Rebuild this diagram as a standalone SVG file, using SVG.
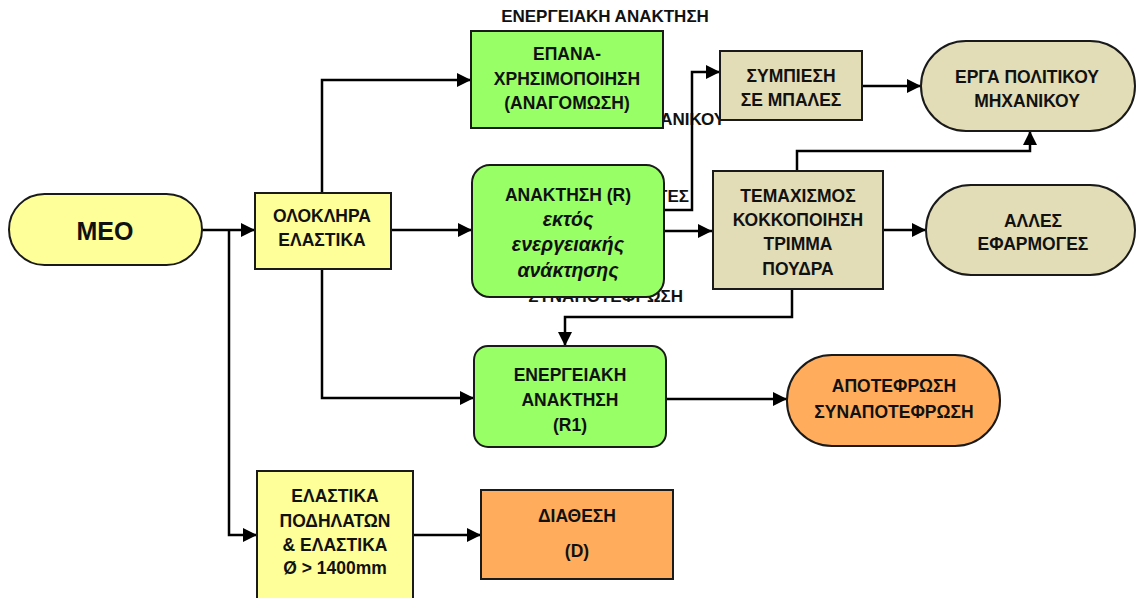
<svg xmlns="http://www.w3.org/2000/svg" width="1136" height="598" viewBox="0 0 1136 598">
  <defs>
    <marker id="arr" markerUnits="userSpaceOnUse" markerWidth="14" markerHeight="14" viewBox="0 0 14 14" refX="14" refY="7" orient="auto">
      <path d="M0,0 L14,7 L0,14 z" fill="#000"/>
    </marker>
    <style>
      text { font-family: "Liberation Sans", Arial, sans-serif; font-weight: bold; font-size: 17.5px; fill: #111; text-anchor: middle; }
      .it { font-style: italic; font-size: 19.5px; }
      .big { font-size: 25px; }
      .ttl { font-size: 17px; }
      .hid { text-anchor: end; font-size: 17px; }
      .yel { fill: #FFFF99; stroke: #1a1a1a; stroke-width: 2; }
      .grn { fill: #99FF66; stroke: #1a1a1a; stroke-width: 2; }
      .bei { fill: #E2DDB6; stroke: #1a1a1a; stroke-width: 2; }
      .org { fill: #FFAD5C; stroke: #1a1a1a; stroke-width: 2; }
      .con path { fill: none; stroke: #000; stroke-width: 2.5; marker-end: url(#arr); }
    </style>
  </defs>
  <rect width="1136" height="598" fill="#fff"/>

  <g id="hidden-labels">
    <text class="hid" x="725" y="125">ΜΗΧΑΝΙΚΟΥ</text>
    <text class="hid" x="689" y="202">ΓΕΣ</text>
    <text class="hid" x="683" y="302">ΣΥΝΑΠΟΤΕΦΡΩΣΗ</text>
  </g>

  <text id="title" class="ttl" x="605" y="22">ΕΝΕΡΓΕΙΑΚΗ ΑΝΑΚΤΗΣΗ</text>

  <g class="con" id="connectors">
    <path d="M202,230 H255"/>
    <path d="M229,230 V535 H257"/>
    <path d="M322,193 V80 H471"/>
    <path d="M391,230 H472"/>
    <path d="M322,269 V398 H474"/>
    <path d="M664,231 H712"/>
    <path d="M664,210 H692 V72 H720"/>
    <path d="M862,86 H921"/>
    <path d="M797,171 V151 H1030 V131"/>
    <path d="M883,230 H926"/>
    <path d="M792,289 V317 H565 V346"/>
    <path d="M666,399 H787"/>
    <path d="M413,535 H481"/>
  </g>

  <g id="meo">
    <rect class="yel" x="9" y="194" width="193" height="71" rx="35.5"/>
    <text class="big" x="105" y="240">ΜΕΟ</text>
  </g>

  <g id="olokl">
    <rect class="yel" x="255" y="193" width="136" height="76"/>
    <text x="322" y="222">ΟΛΟΚΛΗΡΑ</text>
    <text x="322" y="246">ΕΛΑΣΤΙΚΑ</text>
  </g>

  <g id="epana">
    <rect class="grn" x="471" y="31" width="192" height="97"/>
    <text x="567" y="60">ΕΠΑΝΑ-</text>
    <text x="567" y="85">ΧΡΗΣΙΜΟΠΟΙΗΣΗ</text>
    <text x="567" y="109">(ΑΝΑΓΟΜΩΣΗ)</text>
  </g>

  <g id="anaktisi-r">
    <rect class="grn" x="472" y="165" width="192" height="132" rx="18"/>
    <text x="568" y="201">ΑΝΑΚΤΗΣΗ (R)</text>
    <text class="it" x="568" y="226">εκτός</text>
    <text class="it" x="568" y="251">ενεργειακής</text>
    <text class="it" x="568" y="277">ανάκτησης</text>
  </g>

  <g id="sympiesi">
    <rect class="bei" x="720" y="51" width="142" height="69"/>
    <text x="791" y="82">ΣΥΜΠΙΕΣΗ</text>
    <text x="791" y="106">ΣΕ ΜΠΑΛΕΣ</text>
  </g>

  <g id="erga">
    <rect class="bei" x="921" y="41" width="214" height="90" rx="45"/>
    <text x="1027" y="83">ΕΡΓΑ ΠΟΛΙΤΙΚΟΥ</text>
    <text x="1027" y="107">ΜΗΧΑΝΙΚΟΥ</text>
  </g>

  <g id="temaxismos">
    <rect class="bei" x="713" y="171" width="170" height="118"/>
    <text x="798" y="202">ΤΕΜΑΧΙΣΜΟΣ</text>
    <text x="798" y="226">ΚΟΚΚΟΠΟΙΗΣΗ</text>
    <text x="798" y="250">ΤΡΙΜΜΑ</text>
    <text x="798" y="275">ΠΟΥΔΡΑ</text>
  </g>

  <g id="alles">
    <rect class="bei" x="926" y="185" width="209" height="90" rx="45"/>
    <text x="1033" y="227">ΑΛΛΕΣ</text>
    <text x="1033" y="250">ΕΦΑΡΜΟΓΕΣ</text>
  </g>

  <g id="r1">
    <rect class="grn" x="474" y="346" width="192" height="101" rx="14"/>
    <text x="570" y="381">ΕΝΕΡΓΕΙΑΚΗ</text>
    <text x="570" y="406">ΑΝΑΚΤΗΣΗ</text>
    <text x="570" y="431">(R1)</text>
  </g>

  <g id="apotefrosi">
    <rect class="org" x="787" y="355" width="213" height="91" rx="45"/>
    <text x="894" y="392">ΑΠΟΤΕΦΡΩΣΗ</text>
    <text x="894" y="418">ΣΥΝΑΠΟΤΕΦΡΩΣΗ</text>
  </g>

  <g id="podilaton">
    <rect class="yel" x="257" y="471" width="156" height="140"/>
    <text x="335" y="502">ΕΛΑΣΤΙΚΑ</text>
    <text x="335" y="527">ΠΟΔΗΛΑΤΩΝ</text>
    <text x="335" y="551">&amp; ΕΛΑΣΤΙΚΑ</text>
    <text x="335" y="574">Ø &gt; 1400mm</text>
  </g>

  <g id="diathesi">
    <rect class="org" x="481" y="490" width="192" height="89"/>
    <text x="577" y="522">ΔΙΑΘΕΣΗ</text>
    <text x="577" y="557">(D)</text>
  </g>
</svg>
